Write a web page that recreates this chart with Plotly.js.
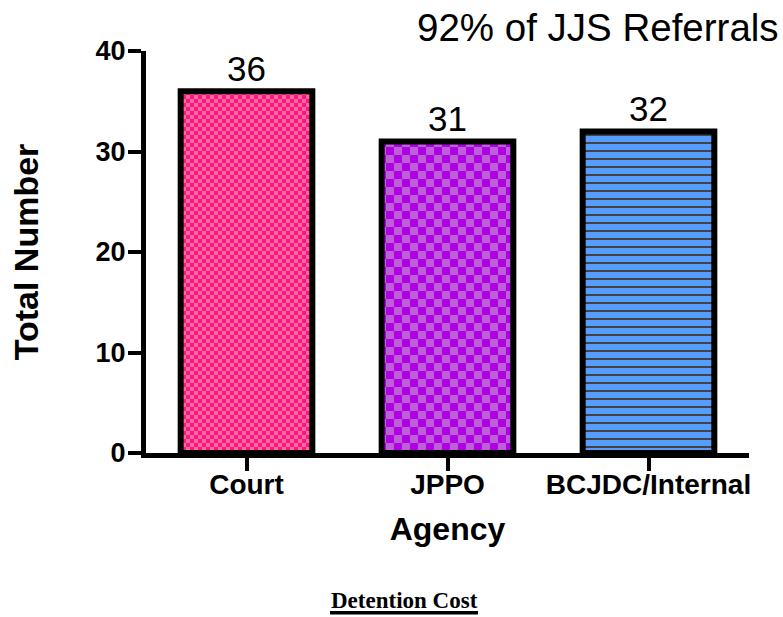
<!DOCTYPE html>
<html>
<head>
<meta charset="utf-8">
<script src="https://cdn.plot.ly/plotly-3.0.1.min.js"></script>
<style>
  html, body { margin: 0; padding: 0; background: #fff; }
  #chart { width: 783px; height: 617px; }
</style>
</head>
<body>
<div id="chart"></div>
<script>
const categories = ["Court", "JPPO", "BCJDC/Internal"];
const totals = [36, 31, 32];
const yTickValues = [0, 10, 20, 30, 40];
const yTickLabels = ["0", "10", "20", "30", "40"];
const topNote = "92% of JJS Referrals";
const footer = "Detention Cost";

const patShapes = [".", ".", "-"];
const patFg = ["#ff1486", "#b000e4", "#5a4ff0"];
const patBg = ["#ff6c9c", "#bd60d8", "#559eff"];
const patSize = [8, 16, 8];
const patSolidity = [0.5, 0.5, 0.25];
const checkerCell = [4, 8, 0];

const SANS = "Liberation Sans, Arial, sans-serif";

const trace = {
  type: "bar",
  x: categories,
  y: totals,
  width: 0.655,
  text: totals.map(String),
  textposition: "outside",
  cliponaxis: false,
  textfont: { family: SANS, size: 35, color: "#000" },
  marker: {
    color: patBg,
    line: { color: "#000", width: 6 },
    pattern: {
      shape: patShapes,
      fgcolor: patFg,
      size: patSize,
      solidity: patSolidity,
      fgopacity: 1,
      fillmode: "overlay"
    }
  },
  hoverinfo: "skip"
};

const layout = {
  width: 783,
  height: 617,
  margin: { l: 146, r: 34, t: 51, b: 164 },
  paper_bgcolor: "#fff",
  plot_bgcolor: "#fff",
  showlegend: false,
  font: { family: SANS, color: "#000" },
  xaxis: {
    type: "category",
    range: [-0.5, 2.5],
    showline: true,
    linecolor: "#000",
    linewidth: 5,
    ticks: "outside",
    ticklen: 13,
    tickwidth: 4,
    tickcolor: "#000",
    ticklabelstandoff: -11,
    tickfont: { size: 28, family: SANS, weight: "bold", color: "#000" },
    showgrid: false,
    zeroline: false,
    title: { text: "<b>Agency</b>", font: { size: 32, color: "#000" }, standoff: 21 }
  },
  yaxis: {
    range: [0, 40],
    tickvals: yTickValues,
    ticktext: yTickLabels,
    showline: true,
    linecolor: "#000",
    linewidth: 5,
    ticks: "outside",
    ticklen: 13,
    tickwidth: 4,
    tickcolor: "#000",
    ticklabelstandoff: -3,
    tickfont: { size: 27, family: SANS, weight: "bold", color: "#000" },
    showgrid: false,
    zeroline: false,
    title: { text: "<b>Total Number</b>", font: { size: 34, color: "#000" }, standoff: 48 }
  },
  annotations: [
    {
      text: topNote,
      xref: "paper", yref: "paper",
      x: (781 - 146) / 603, y: (452.7 - 27) / 402,
      xanchor: "right", yanchor: "middle",
      showarrow: false,
      font: { size: 38.5, family: SANS, color: "#000" }
    },
    {
      text: "<b>" + footer + "</b>",
      xref: "paper", yref: "paper",
      x: (404 - 146) / 603, y: (452.7 - 600) / 402,
      xanchor: "center", yanchor: "middle",
      showarrow: false,
      font: { size: 23, family: "Liberation Serif, Times New Roman, serif", color: "#000" }
    }
  ],
  shapes: [
    {
      type: "line",
      xref: "paper", yref: "paper",
      x0: (330 - 146) / 603, x1: (478 - 146) / 603,
      y0: (452.7 - 612.5) / 402, y1: (452.7 - 612.5) / 402,
      line: { color: "#000", width: 3.5 }
    }
  ]
};

function applyCheckers(gd) {
  try {
    const NS = "http://www.w3.org/2000/svg";
    const paths = gd.querySelectorAll(".barlayer .trace .point path");
    paths.forEach(function (p, i) {
      const c = checkerCell[i];
      if (!c) return;
      const fill = p.style.fill || p.getAttribute("fill") || "";
      const m = fill.match(/url\(["']?#([^"')]+)["']?\)/);
      if (!m) return;
      const pat = document.getElementById(m[1]);
      if (!pat) return;
      while (pat.firstChild) pat.removeChild(pat.firstChild);
      pat.setAttribute("width", 2 * c);
      pat.setAttribute("height", 2 * c);
      pat.setAttribute("patternUnits", "userSpaceOnUse");
      pat.removeAttribute("patternTransform");
      const bg = document.createElementNS(NS, "rect");
      bg.setAttribute("x", 0); bg.setAttribute("y", 0);
      bg.setAttribute("width", 2 * c); bg.setAttribute("height", 2 * c);
      bg.setAttribute("fill", patBg[i]);
      pat.appendChild(bg);
      [[0, 0], [c, c]].forEach(function (o) {
        const r = document.createElementNS(NS, "rect");
        r.setAttribute("x", o[0]); r.setAttribute("y", o[1]);
        r.setAttribute("width", c); r.setAttribute("height", c);
        r.setAttribute("fill", patFg[i]);
        pat.appendChild(r);
      });
    });
  } catch (e) { /* keep Plotly's own pattern */ }
}

Plotly.newPlot("chart", [trace], layout, { displayModeBar: false, staticPlot: true })
  .then(applyCheckers);
</script>
</body>
</html>
